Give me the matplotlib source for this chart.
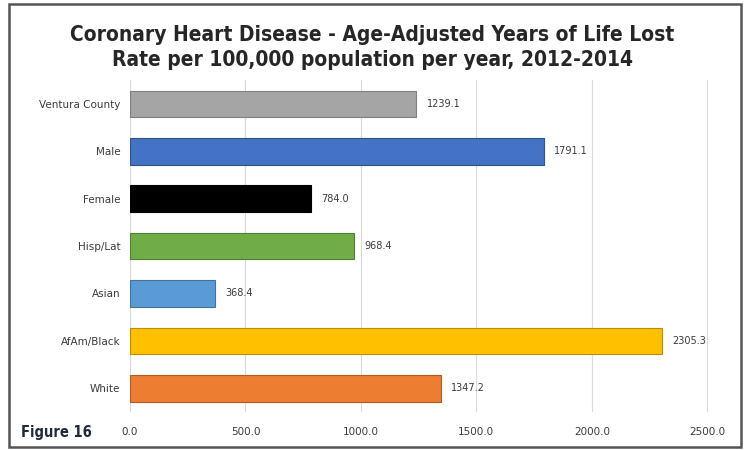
import matplotlib.pyplot as plt
from matplotlib import font_manager
from matplotlib.patches import Rectangle

# Years of life lost, coronary heart disease, rate per 100,000
groups = ["Ventura County", "Male", "Female", "Hisp/Lat", "Asian", "AfAm/Black", "White"]
rates = [1239.1, 1791.1, 784.0, 968.4, 368.4, 2305.3, 1347.2]
colors = ["#A5A5A5", "#4472C4", "#000000", "#70AD47", "#5B9BD5", "#FFC000", "#ED7D31"]
edges = ["#7F7F7F", "#2F528F", "#000000", "#507E32", "#41719C", "#BC8C00", "#AE5A21"]
xticks = [0, 500, 1000, 1500, 2000, 2500]

# narrow bold face for the headings if one is around
cond = font_manager.FontProperties(family="DejaVu Sans", stretch="condensed", weight="bold")
cond_file = font_manager.findfont(cond, fallback_to_default=True)
has_cond = "Condensed" in cond_file

txt = "#3A3A3A"

fig = plt.figure(figsize=(7.45, 4.5), dpi=100)
ax = fig.add_axes([0.1745, 0.0844, 0.7785, 0.7376])

ypos = list(range(len(groups)))
ax.barh(ypos, rates, height=0.56, color=colors, edgecolor=edges, linewidth=0.8, zorder=3)
for y, v in zip(ypos, rates):
    ax.text(v + 45, y, f"{v:.1f}", va="center", ha="left", color=txt, fontsize=7)

ax.set_ylim(len(groups) - 0.5, -0.5)
ax.set_xlim(0, 2512)
ax.set_yticks(ypos)
ax.set_yticklabels(groups, color=txt, fontsize=7.5)
ax.set_xticks(xticks)
ax.set_xticklabels([f"{t:.1f}" for t in xticks], color=txt, fontsize=7.5)
ax.tick_params(length=0)
ax.tick_params(axis="y", pad=7)
ax.tick_params(axis="x", pad=11)
ax.xaxis.grid(True, color="#D9D9D9", linewidth=0.8, zorder=0)
for s in ax.spines.values():
    s.set_visible(False)

title_font = cond.copy()
title_font.set_size(15 if has_cond else 13)
fig.text(0.5, 0.895, "Coronary Heart Disease - Age-Adjusted Years of Life Lost\n"
         "Rate per 100,000 population per year, 2012-2014",
         ha="center", va="center", color="#262626", fontproperties=title_font,
         linespacing=1.3)
fig_font = cond.copy()
fig_font.set_size(10.5 if has_cond else 10)
fig.text(0.028, 0.040, "Figure 16", ha="left", va="center", color="#1F2A3A",
         fontproperties=fig_font)

# outer frame
fig.patches.append(Rectangle((0.012, 0.006), 0.983, 0.985, transform=fig.transFigure,
                             fill=False, edgecolor="#555555", linewidth=1.8))

fig.savefig("out.png", dpi=100)
